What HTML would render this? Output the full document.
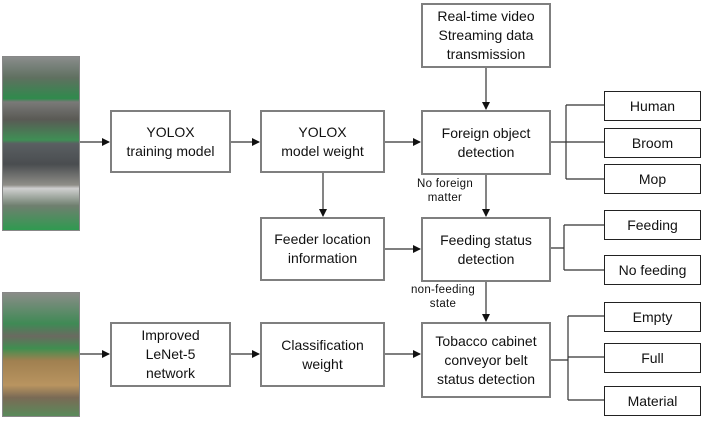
<!DOCTYPE html>
<html><head><style>
body{margin:0;width:704px;height:421px;background:#fff;position:relative;overflow:hidden;font-family:"Liberation Sans",sans-serif;}
.b{position:absolute;box-sizing:border-box;border:2px solid #7f7f7f;display:flex;align-items:center;justify-content:center;text-align:center;font-size:14px;line-height:19px;color:#111;background:#fff}
.s{position:absolute;box-sizing:border-box;border:1px solid #222;display:flex;align-items:center;justify-content:center;font-size:14px;color:#111;background:#fff}
.l{position:absolute;font-size:11.5px;color:#111;text-align:center;line-height:14px;letter-spacing:0.3px}
.p{position:absolute;}
</style></head><body>
<svg width="704" height="421" style="position:absolute;left:0;top:0">
<defs><marker id="a" markerWidth="8" markerHeight="8" refX="7" refY="4" orient="auto" markerUnits="userSpaceOnUse"><path d="M0,0 L8,4 L0,8 Z" fill="#111"/></marker></defs>
<g stroke="#333" stroke-width="1.2" fill="none">
<line x1="78" y1="142" x2="109" y2="142" marker-end="url(#a)"/>
<line x1="231" y1="142" x2="259" y2="142" marker-end="url(#a)"/>
<line x1="385" y1="142" x2="420" y2="142" marker-end="url(#a)"/>
<line x1="486" y1="68" x2="486" y2="109" marker-end="url(#a)"/>
<line x1="323" y1="173" x2="323" y2="216" marker-end="url(#a)"/>
<line x1="486" y1="175" x2="486" y2="216" marker-end="url(#a)"/>
<line x1="385" y1="249" x2="420" y2="249" marker-end="url(#a)"/>
<line x1="486" y1="282" x2="486" y2="321" marker-end="url(#a)"/>
<line x1="78" y1="354" x2="109" y2="354" marker-end="url(#a)"/>
<line x1="231" y1="354" x2="259" y2="354" marker-end="url(#a)"/>
<line x1="385" y1="354" x2="420" y2="354" marker-end="url(#a)"/>
<path d="M551 142H566M566 105V179M566 105H604M566 142H604M566 179H604"/>
<path d="M551 248H564M564 225V270M564 225H604M564 270H604"/>
<path d="M551 360H568M568 316V400M568 316H604M568 357H604M568 400H604"/>
</g></svg>
<div class="p" style="left:2px;top:56px;width:76px;height:173px;background:linear-gradient(#8a8d8c 0%,#5f7060 12%,#2f8a4c 24%,#7a7a78 26%,#5a5a55 36%,#3f8f55 48%,#5a5f62 50%,#4a4d50 62%,#8f8e88 74%,#d0d0d0 76%,#6f7f6f 86%,#2f9a50 100%);border:1px solid #888"></div>
<div class="p" style="left:2px;top:292px;width:76px;height:123px;background:linear-gradient(#8a8c88 0%,#3f8a55 25%,#6a6a60 35%,#3f8f50 45%,#a08050 55%,#b99460 75%,#7a6a55 85%,#5a8a5a 100%);border:1px solid #888"></div>
<div class="b" style="left:110px;top:110px;width:121px;height:63px">YOLOX<br>training model</div>
<div class="b" style="left:260px;top:110px;width:125px;height:63px">YOLOX<br>model weight</div>
<div class="b" style="left:421px;top:3px;width:130px;height:65px">Real-time video<br>Streaming data<br>transmission</div>
<div class="b" style="left:421px;top:110px;width:130px;height:65px">Foreign object<br>detection</div>
<div class="b" style="left:260px;top:217px;width:125px;height:64px">Feeder location<br>information</div>
<div class="b" style="left:421px;top:217px;width:130px;height:65px">Feeding status<br>detection</div>
<div class="b" style="left:110px;top:322px;width:121px;height:65px">Improved<br>LeNet-5<br>network</div>
<div class="b" style="left:260px;top:322px;width:125px;height:65px">Classification<br>weight</div>
<div class="b" style="left:421px;top:322px;width:130px;height:76px">Tobacco cabinet<br>conveyor belt<br>status detection</div>
<div class="s" style="left:604px;top:91px;width:97px;height:30px">Human</div>
<div class="s" style="left:604px;top:128px;width:97px;height:30px">Broom</div>
<div class="s" style="left:604px;top:164px;width:97px;height:30px">Mop</div>
<div class="s" style="left:604px;top:210px;width:97px;height:30px">Feeding</div>
<div class="s" style="left:604px;top:255px;width:97px;height:30px">No feeding</div>
<div class="s" style="left:604px;top:302px;width:97px;height:30px">Empty</div>
<div class="s" style="left:604px;top:343px;width:97px;height:30px">Full</div>
<div class="s" style="left:604px;top:386px;width:97px;height:30px">Material</div>
<div class="l" style="left:412px;top:177px;width:66px">No foreign<br>matter</div>
<div class="l" style="left:406px;top:283px;width:74px">non-feeding<br>state</div>
</body></html>
